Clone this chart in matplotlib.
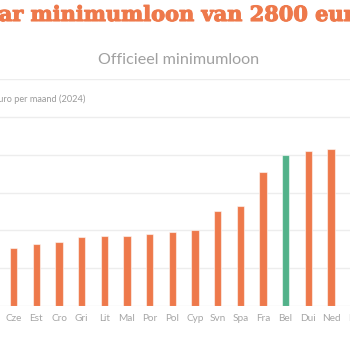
import matplotlib
matplotlib.use("Agg")
import matplotlib.pyplot as plt
import matplotlib.patheffects as pe

# Data (Eurostat, January 2024, euro per month)
categories = ["Bul", "Roe", "Hon", "Let", "Slk", "Cze", "Est", "Cro", "Gri", "Lit", "Mal",
              "Por", "Pol", "Cyp", "Svn", "Spa", "Fra", "Bel", "Dui", "Ned", "Ier", "Lux"]
values = [477, 663, 697, 700, 750, 764, 820, 840, 910, 924, 925,
          957, 978, 1000, 1254, 1323, 1767, 1994, 2054, 2070, 2146, 2571]
highlight = "Bel"
yticks = [0, 500, 1000, 1500, 2000, 2500, 3000]

ORANGE = "#EE794B"
GREEN = "#52B28A"
GRID = "#EDEDED"
LABEL = "#A6A6A6"

W, H = 350, 350
fig = plt.figure(figsize=(W / 100, H / 100), dpi=100)
fig.patch.set_facecolor("white")

# axes extends beyond figure so that the view is cropped like the reference
x0, x1 = -0.7, len(categories) - 0.3
spacing = 22.66
cze_px = 13.7
left_px = cze_px + (x0 - 5) * spacing
right_px = cze_px + (x1 - 5) * spacing
base_px, top_px = 306, 79
ax = fig.add_axes([left_px / W, (H - base_px) / H,
                   (right_px - left_px) / W, (base_px - top_px) / H])

colors = [GREEN if c == highlight else ORANGE for c in categories]
xs = list(range(len(categories)))
ax.bar(xs, values, width=0.33, color=colors, edgecolor=(1, 1, 1, 0.55),
       linewidth=0.8, zorder=3)

ax.set_xlim(x0, x1)
ax.set_ylim(yticks[0], yticks[-1])
ax.set_yticks(yticks)
ax.yaxis.grid(True, color=GRID, linewidth=1.0, zorder=0)
ax.set_axisbelow(True)
for s in ax.spines.values():
    s.set_visible(False)
ax.set_xticks(xs)
ax.set_xticklabels(categories, fontfamily="Lato", fontsize=7.2, color=LABEL)
ax.tick_params(axis="x", length=0, pad=6)
ax.tick_params(axis="y", length=0, labelleft=False)

# titles
fig.text(-30 / W, 1 - 15 / H, "naar minimumloon van 2800 euro",
         fontfamily="DejaVu Serif", fontweight="bold", fontsize=15.05,
         color=ORANGE, ha="left", va="center",
         path_effects=[pe.withStroke(linewidth=0.8, foreground=ORANGE)])
fig.text(179 / W, 1 - 60 / H, "Officieel minimumloon", fontfamily="Lato",
         fontsize=11.6, color="#A0A0A0", ha="center", va="center")
fig.text(-7 / W, 1 - 99 / H, "Euro per maand (2024)", fontfamily="Lato",
         fontsize=6.6, color="#9A9A9A", ha="left", va="center")

fig.savefig("out.png", dpi=100)
